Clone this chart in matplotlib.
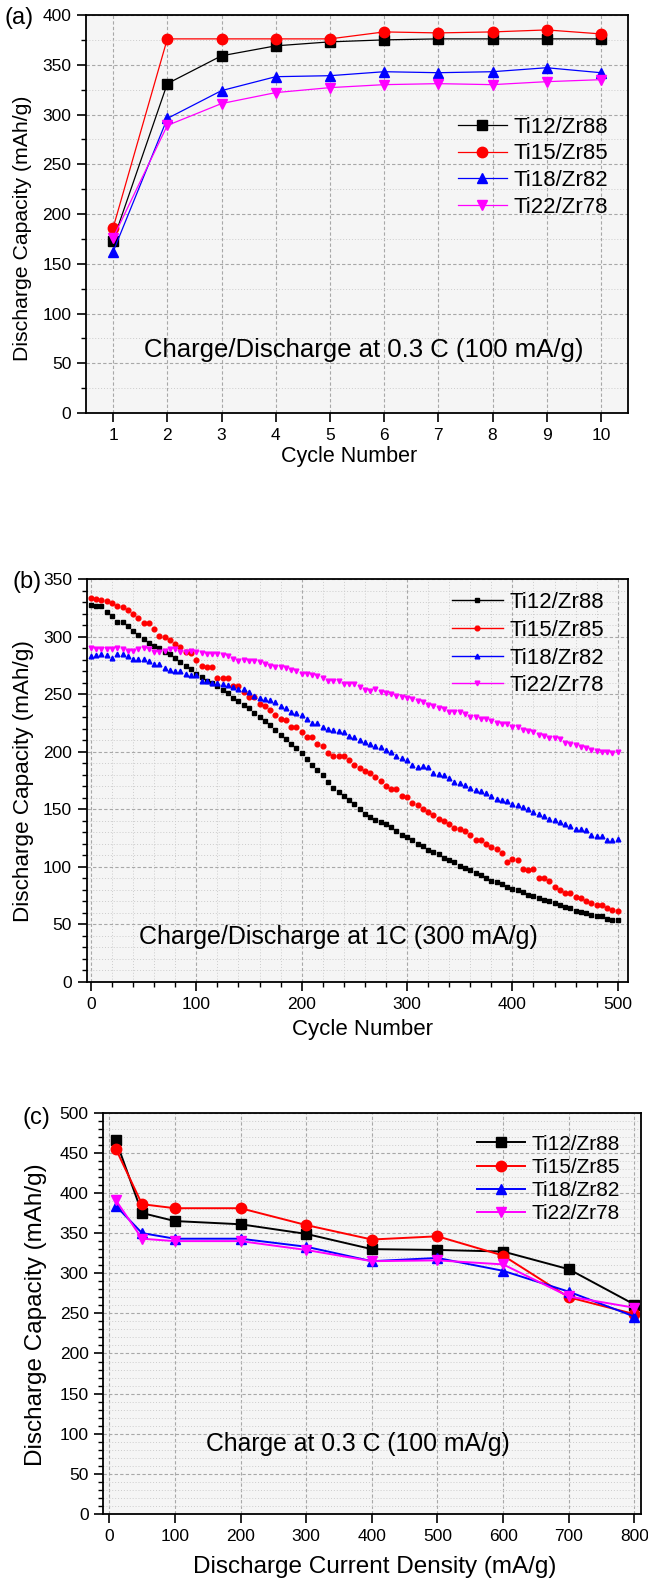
import matplotlib.pyplot as plt
from matplotlib.ticker import MultipleLocator
import numpy as np

plt.rcParams['font.family'] = ['Liberation Sans', 'DejaVu Sans']

# ---- data ----
labels = ['Ti12/Zr88', 'Ti15/Zr85', 'Ti18/Zr82', 'Ti22/Zr78']
colors = ['black', 'red', 'blue', 'magenta']
markers = ['s', 'o', '^', 'v']

# (a) first 10 cycles at 0.3 C
cycles_a = [1, 2, 3, 4, 5, 6, 7, 8, 9, 10]
a_ti12 = [173, 331, 359, 369, 373, 375, 376, 376, 376, 376]
a_ti15 = [186, 376, 376, 376, 376, 383, 382, 383, 385, 381]
a_ti18 = [162, 296, 324, 338, 339, 343, 342, 343, 347, 342]
a_ti22 = [176, 289, 311, 322, 327, 330, 331, 330, 333, 335]

# (b) cycling at 1C, one point every 5 cycles
cycles_b = np.arange(0, 501, 5)
b_ti12 = [328, 327, 327, 322, 318, 313, 313, 309, 305, 302,
          298, 295, 292, 290, 287, 285, 282, 278, 275, 272,
          268, 265, 262, 260, 257, 254, 251, 247, 244, 241,
          238, 234, 230, 227, 223, 219, 215, 211, 207, 203,
          199, 194, 189, 184, 180, 174, 169, 165, 162, 158,
          155, 150, 146, 143, 141, 139, 137, 135, 131, 128,
          126, 123, 120, 118, 115, 113, 111, 108, 106, 104,
          101, 99, 97, 95, 93, 90, 88, 87, 85, 83,
          81, 80, 78, 76, 75, 73, 71, 70, 69, 67,
          65, 64, 62, 61, 60, 58, 57, 57, 55, 54,
          54]
b_ti15 = [334, 333, 332, 331, 329, 327, 326, 323, 320, 316,
          312, 312, 307, 301, 300, 297, 294, 291, 287, 286,
          280, 275, 274, 274, 264, 264, 264, 257, 257, 252,
          248, 248, 242, 240, 236, 232, 229, 228, 222, 222,
          217, 213, 213, 207, 205, 199, 196, 196, 196, 193,
          189, 186, 183, 182, 178, 175, 170, 168, 168, 162,
          161, 156, 154, 150, 148, 145, 142, 140, 137, 134,
          133, 131, 128, 123, 123, 120, 117, 116, 112, 104,
          107, 106, 98, 97, 98, 90, 90, 88, 83, 80,
          77, 77, 74, 73, 70, 69, 67, 67, 64, 63,
          62]
b_ti18 = [283, 284, 285, 284, 282, 285, 285, 283, 281, 281,
          281, 279, 276, 276, 273, 271, 270, 270, 268, 267,
          267, 262, 262, 260, 260, 259, 258, 256, 255, 255,
          252, 249, 247, 246, 245, 243, 240, 238, 235, 234,
          232, 229, 225, 225, 222, 220, 219, 218, 217, 214,
          213, 210, 209, 207, 205, 204, 202, 200, 196, 195,
          193, 189, 187, 188, 187, 182, 181, 180, 177, 174,
          173, 171, 169, 167, 166, 164, 162, 159, 158, 157,
          155, 154, 152, 150, 148, 146, 144, 142, 141, 139,
          137, 136, 133, 133, 132, 128, 127, 127, 123, 123,
          124]
b_ti22 = [290, 289, 289, 289, 289, 290, 289, 288, 288, 289,
          290, 289, 287, 287, 288, 289, 289, 287, 287, 288,
          287, 286, 285, 285, 285, 284, 283, 281, 279, 280,
          279, 279, 278, 276, 275, 274, 274, 273, 271, 270,
          268, 268, 267, 266, 264, 262, 262, 262, 259, 259,
          259, 256, 254, 253, 255, 252, 251, 250, 249, 248,
          247, 246, 244, 243, 241, 240, 238, 237, 235, 235,
          235, 233, 230, 230, 229, 229, 227, 225, 224, 224,
          222, 222, 219, 218, 217, 215, 214, 212, 212, 211,
          208, 207, 206, 204, 203, 202, 201, 200, 200, 199,
          200]

# (c) rate capability
current_c = [10, 50, 100, 200, 300, 400, 500, 600, 700, 800]
c_ti12 = [466, 375, 365, 361, 349, 330, 329, 327, 305, 261]
c_ti15 = [455, 386, 381, 381, 360, 342, 346, 322, 270, 249]
c_ti18 = [384, 350, 343, 343, 333, 315, 319, 303, 277, 246]
c_ti22 = [391, 343, 340, 340, 329, 315, 316, 311, 271, 257]

W, H = 648, 1582
fig = plt.figure(figsize=(W / 100, H / 100), dpi=100)


def px_axes(l, t, r, b):
    return fig.add_axes([l / W, 1 - b / H, (r - l) / W, (b - t) / H])


def style(ax, ymaj, ymin, xmin=None):
    ax.set_facecolor('#f5f5f5')
    ax.yaxis.set_major_locator(MultipleLocator(ymaj))
    ax.yaxis.set_minor_locator(MultipleLocator(ymin))
    if xmin:
        ax.xaxis.set_minor_locator(MultipleLocator(xmin))
    ax.grid(which='major', color='#a8a8a8', linestyle=(0, (3, 2)), linewidth=0.8)
    ax.grid(which='minor', color='#cccccc', linestyle=(0, (1, 2)), linewidth=0.7)
    ax.set_axisbelow(True)
    ax.tick_params(which='major', direction='out', length=6.5, width=1.2,
                   labelsize=12.5, pad=4, top=False, right=False)
    ax.tick_params(which='minor', direction='out', length=3.5, width=1.0,
                   top=False, right=False)
    for sp in ax.spines.values():
        sp.set_linewidth(1.3)


# ---- (a) ----
ax1 = px_axes(86, 15, 628, 413)
for ys, c, m, lab in zip([a_ti12, a_ti15, a_ti18, a_ti22], colors, markers, labels):
    ax1.plot(cycles_a, ys, color=c, marker=m, markersize=7.5 if m != 's' else 6.5,
             linewidth=0.9, label=lab)
ax1.set_xlim(0.5, 10.5)
ax1.set_ylim(0, 400)
ax1.set_xticks(cycles_a)
style(ax1, 50, 25)
ax1.set_xlabel('Cycle Number', fontsize=15.5, va='center')
ax1.set_ylabel('Discharge Capacity (mAh/g)', fontsize=15.3, va='center')
ax1.xaxis.set_label_coords(0.485, -0.11)
ax1.yaxis.set_label_coords(-0.118, 0.465)
ax1.text(5.63, 63, 'Charge/Discharge at 0.3 C (100 mA/g)', fontsize=18.5,
         ha='center', va='center')
ax1.legend(loc='upper right', bbox_to_anchor=(0.963, 0.744), frameon=False,
           fontsize=16, borderpad=0, borderaxespad=0, labelspacing=0.25,
           handlelength=2.2, handletextpad=0.3)

# ---- (b) ----
ax2 = px_axes(86.7, 579.3, 628.3, 982)
for ys, c, m, lab in zip([b_ti12, b_ti15, b_ti18, b_ti22], colors, markers, labels):
    ax2.plot(cycles_b, ys, color=c, marker=m, markersize=3.4, linewidth=0.6,
             linestyle='none', label=lab)
ax2.set_xlim(-4, 510)
ax2.set_ylim(0, 350)
ax2.xaxis.set_major_locator(MultipleLocator(100))
style(ax2, 50, 10, xmin=20)
ax2.set_xlabel('Cycle Number', fontsize=16, va='center')
ax2.set_ylabel('Discharge Capacity (mAh/g)', fontsize=16.2, va='center')
ax2.xaxis.set_label_coords(0.51, -0.119)
ax2.yaxis.set_label_coords(-0.116, 0.5)
ax2.text(235, 39, 'Charge/Discharge at 1C (300 mA/g)', fontsize=18,
         ha='center', va='center')
handles = [plt.Line2D([], [], color=c, marker=m, markersize=3.4, linewidth=1.0)
           for c, m in zip(colors, markers)]
ax2.legend(handles, labels, loc='upper right', bbox_to_anchor=(0.955, 0.968),
           frameon=False, fontsize=16, borderpad=0, borderaxespad=0,
           labelspacing=0.3, handlelength=2.3, handletextpad=0.3)

# ---- (c) ----
ax3 = px_axes(103.3, 1112.7, 641, 1514)
for ys, c, m, lab in zip([c_ti12, c_ti15, c_ti18, c_ti22], colors, markers, labels):
    ax3.plot(current_c, ys, color=c, marker=m, markersize=7.5 if m != 's' else 6.5,
             linewidth=1.4, label=lab)
ax3.set_xlim(-9, 810)
ax3.set_ylim(0, 500)
ax3.xaxis.set_major_locator(MultipleLocator(100))
style(ax3, 50, 10)
ax3.set_xlabel('Discharge Current Density (mA/g)', fontsize=17.5, va='center')
ax3.set_ylabel('Discharge Capacity (mAh/g)', fontsize=17.5, va='center')
ax3.xaxis.set_label_coords(0.505, -0.132)
ax3.yaxis.set_label_coords(-0.125, 0.496)
ax3.text(378, 87, 'Charge at 0.3 C (100 mA/g)', fontsize=17.8,
         ha='center', va='center')
ax3.legend(loc='upper right', bbox_to_anchor=(0.961, 0.945), frameon=False,
           fontsize=15, borderpad=0, borderaxespad=0, labelspacing=0.2,
           handlelength=2.3, handletextpad=0.3)

# panel tags
fig.text(5 / W, 1 - 18 / H, '(a)', fontsize=17, va='center', ha='left')
fig.text(12 / W, 1 - 582 / H, '(b)', fontsize=17, va='center', ha='left')
fig.text(22 / W, 1 - 1118 / H, '(c)', fontsize=17, va='center', ha='left')

fig.savefig('out.png', dpi=100)
